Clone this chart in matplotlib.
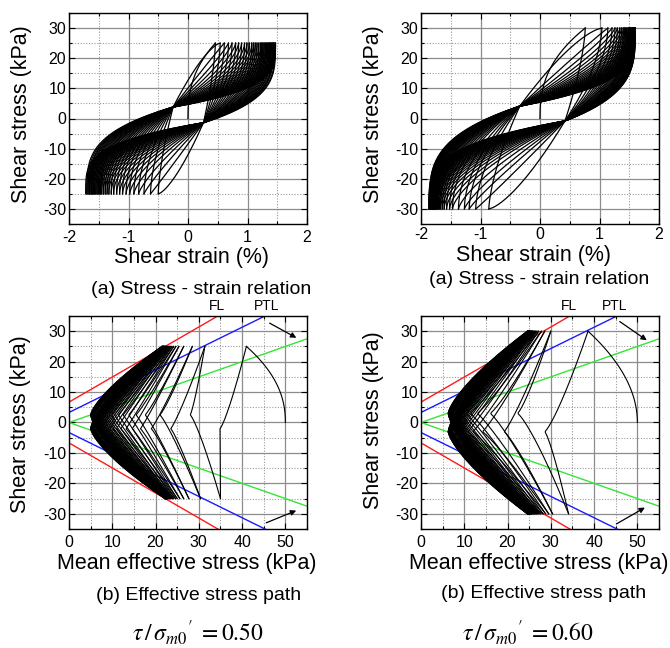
import numpy as np
import matplotlib.pyplot as plt
from matplotlib.ticker import MultipleLocator

plt.rcParams['font.family'] = ['Liberation Sans', 'DejaVu Sans']
plt.rcParams['mathtext.fontset'] = 'stix'
plt.rcParams['axes.unicode_minus'] = False

# ---- tau / sigma_m0' = 0.50 (left column) ----
amp_a = 25
peak_strain_a = [0.46, 0.54, 0.61, 0.68, 0.74, 0.80, 0.85, 0.90, 0.95, 0.99, 1.03, 1.07, 1.10, 1.13, 1.16, 1.19,
                 1.22, 1.24, 1.26, 1.28, 1.30, 1.32, 1.34, 1.36, 1.37, 1.39, 1.40, 1.42, 1.43, 1.44, 1.46, 1.47]
trough_strain_a = [-0.50, -0.63, -0.74, -0.83, -0.91, -0.98, -1.04, -1.10, -1.15, -1.20, -1.25, -1.29, -1.33, -1.36,
                   -1.39, -1.42, -1.45, -1.47, -1.49, -1.51, -1.53, -1.55, -1.57, -1.59, -1.60, -1.62, -1.63, -1.65,
                   -1.66, -1.68, -1.70, -1.72]
peak_p_a = [41.0, 31.4, 28.5, 26.5, 25.4, 24.7, 24.2, 23.8, 23.5, 23.2, 23.0, 22.8, 22.6, 22.5, 22.4, 22.3,
            22.2, 22.1, 22.0, 22.0, 21.9, 21.9, 21.8, 21.8, 21.7, 21.7, 21.6, 21.6, 21.6, 21.5, 21.5, 21.5]
trough_p_a = [35.0, 30.4, 27.7, 26.5, 25.6, 25.0, 24.6, 24.2, 23.9, 23.7, 23.5, 23.3, 23.2, 23.0, 22.9, 22.8,
              22.8, 22.7, 22.6, 22.6, 22.5, 22.5, 22.4, 22.4, 22.4, 22.3, 22.3, 22.3, 22.2, 22.2, 22.2, 22.2]
pmin_down_a = [34.9, 23.5, 19.0, 16.5, 14.6, 13.2, 12.0, 11.0, 10.2, 9.5, 9.0, 8.5, 8.1, 7.7, 7.4, 7.1,
               6.8, 6.6, 6.4, 6.2, 6.0, 5.9, 5.8, 5.7, 5.6, 5.5, 5.4, 5.3, 5.2, 5.1, 5.0, 5.0]
pmin_up_a = [28.0, 21.0, 17.6, 15.5, 13.8, 12.5, 11.4, 10.5, 9.8, 9.2, 8.7, 8.3, 7.9, 7.5, 7.2, 6.9,
             6.7, 6.5, 6.3, 6.1, 5.9, 5.8, 5.7, 5.6, 5.5, 5.4, 5.3, 5.2, 5.1, 5.0, 5.0]
pivot_down_a = (0.26, -1.4)
pivot_up_a = (-0.25, 3.8)

# ---- tau / sigma_m0' = 0.60 (right column) ----
amp_b = 30
peak_strain_b = [0.76, 1.04, 1.14, 1.21, 1.26, 1.30, 1.34, 1.37, 1.40, 1.42, 1.44, 1.46, 1.48, 1.49, 1.50, 1.51, 1.52,
                 1.53, 1.54, 1.55, 1.55, 1.56, 1.56, 1.57, 1.57, 1.58, 1.58, 1.58, 1.59, 1.59, 1.59, 1.60, 1.60, 1.60]
trough_strain_b = [-0.86, -1.08, -1.19, -1.27, -1.37, -1.47, -1.52, -1.57, -1.61, -1.64, -1.67, -1.69, -1.71, -1.73,
                   -1.74, -1.75, -1.76, -1.77, -1.78, -1.79, -1.80, -1.80, -1.81, -1.82, -1.82, -1.83, -1.83, -1.84,
                   -1.84, -1.85, -1.85, -1.86, -1.86, -1.87]
peak_p_b = [38.6, 30.0, 28.6, 27.8, 27.2, 26.8, 26.5, 26.2, 26.0, 25.8, 25.7, 25.6, 25.5, 25.4, 25.3, 25.2, 25.2,
            25.1, 25.1, 25.0, 25.0, 24.9, 24.9, 24.9, 24.8, 24.8, 24.8, 24.7, 24.7, 24.7, 24.7, 24.6, 24.6, 24.6]
trough_p_b = [34.1, 30.4, 29.5, 28.8, 28.2, 27.7, 27.3, 27.0, 26.7, 26.4, 26.2, 26.0, 25.8, 25.6, 25.5, 25.4, 25.3,
              25.2, 25.1, 25.0, 25.0, 24.9, 24.9, 24.8, 24.8, 24.8, 24.7, 24.7, 24.7, 24.7, 24.6, 24.6, 24.6, 24.6]
pmin_down_b = [28.6, 19.2, 14.2, 12.0, 10.8, 10.0, 9.4, 8.9, 8.5, 8.2, 7.9, 7.7, 7.5, 7.3, 7.2, 7.1, 7.0,
               6.9, 6.8, 6.8, 6.7, 6.7, 6.6, 6.6, 6.5, 6.5, 6.5, 6.4, 6.4, 6.4, 6.3, 6.3, 6.3, 6.3]
pmin_up_b = [22.3, 16.0, 13.0, 11.4, 10.4, 9.7, 9.1, 8.7, 8.3, 8.0, 7.8, 7.6, 7.4, 7.3, 7.2, 7.1, 7.0,
             6.9, 6.8, 6.8, 6.7, 6.7, 6.6, 6.6, 6.5, 6.5, 6.5, 6.4, 6.4, 6.4, 6.3, 6.3, 6.3]
pivot_down_b = (0.42, -0.8)
pivot_up_b = (-0.34, 4.1)

p_initial = 50.0
# reference lines (intercept, slope) in the p'-tau plane
fl_line = (6.7, 0.823)
ptl_line = (3.3, 0.70)
green_line = (0.0, 0.50)


def ramp(s, n):
    return 1 - (1 - s) ** n


def strain_branch(g0, g1, t0, t1, pivot, dev):
    # dev: 0 for the first cycle, 1 for the last (how far cyclic mobility has developed)
    gp, tp = pivot
    n0 = 1.5 + 2.0 * dev
    n1 = 0.7 + 3.0 * dev
    tau = np.linspace(t0, t1, 160)
    s0 = np.clip((tau - tp) / (t0 - tp), 0, 1)
    s1 = np.clip((tau - tp) / (t1 - tp), 0, 1)
    g = np.where(s0 > 0, gp + (g0 - gp) * ramp(s0, n0), gp + (g1 - gp) * ramp(s1, n1))
    return g, tau


def path_branch(p0, p1, pmin, t0, t1, t_apex, dev):
    m = 0.8 + 0.6 * dev
    tau = np.linspace(t0, t1, 160)
    s0 = np.clip((tau - t_apex) / (t0 - t_apex), 0, 1)
    s1 = np.clip((tau - t_apex) / (t1 - t_apex), 0, 1)
    p = np.where(s0 > 0, pmin + (p0 - pmin) * s0 ** m, pmin + (p1 - pmin) * s1 ** m)
    return p, tau


def build(amp, pk_g, tr_g, pk_p, tr_p, pmin_dn, pmin_up, piv_dn, piv_up, apex_dn, apex_up, k0):
    strain_lines, path_lines = [], []
    n = len(pk_g)
    tau = np.linspace(0, amp, 60)
    strain_lines.append((pk_g[0] * (tau / amp) ** 2.5, tau))
    path_lines.append((p_initial - (p_initial - pk_p[0]) * (tau / amp) ** k0, tau))
    for i in range(n):
        dev = (i / (n - 1)) ** 0.7
        strain_lines.append(strain_branch(pk_g[i], tr_g[i], amp, -amp, piv_dn, dev))
        path_lines.append(path_branch(pk_p[i], tr_p[i], pmin_dn[i], amp, -amp, apex_dn, dev))
        if i + 1 < n:
            strain_lines.append(strain_branch(tr_g[i], pk_g[i + 1], -amp, amp, piv_up, dev))
            path_lines.append(path_branch(tr_p[i], pk_p[i + 1], pmin_up[i], -amp, amp, apex_up, dev))
    return strain_lines, path_lines


def style_axes(ax, xlim, xmaj, xmin, xpad=4):
    ax.set_xlim(*xlim)
    ax.set_ylim(-35, 35)
    ax.xaxis.set_major_locator(MultipleLocator(xmaj))
    ax.xaxis.set_minor_locator(MultipleLocator(xmin))
    ax.yaxis.set_major_locator(MultipleLocator(10))
    ax.yaxis.set_minor_locator(MultipleLocator(5))
    ax.grid(which='major', color='#8c8c8c', lw=0.9, ls='-')
    ax.grid(which='minor', color='#9a9a9a', lw=0.8, ls=(0, (1, 1.5)))
    ax.set_axisbelow(True)
    ax.tick_params(which='both', direction='in', top=True, right=True, labelsize=11.5, width=0.8)
    ax.tick_params(which='major', length=4)
    ax.tick_params(which='minor', length=2)
    ax.tick_params(axis='y', pad=2)
    ax.tick_params(axis='x', pad=xpad)
    for sp in ax.spines.values():
        sp.set_linewidth(1.0)


fig = plt.figure(figsize=(6.7, 6.48), dpi=100)
W, H = 670, 648


def px_axes(x0, y0, x1, y1):
    return fig.add_axes([x0 / W, 1 - y1 / H, (x1 - x0) / W, (y1 - y0) / H])


def px_text(x, y, s, size, **kw):
    fig.text(x / W, 1 - y / H, s, fontsize=size, ha='center', va='center', **kw)


panels = [
    dict(data=build(amp_a, peak_strain_a, trough_strain_a, peak_p_a, trough_p_a, pmin_down_a, pmin_up_a,
                    pivot_down_a, pivot_up_a, -2.0, 2.5, 2.2),
         x0=69, xpad=4, label_ss=(192, 258), cap_ss=(201, 290), ylab_top=(22, 114), ylab_bot=(21, 424),
         xlab_b=(187, 563), cap_b=(199, 595), formula=(198, 633), ratio='0.50',
         fl_x=34.1, ptl_x=45.7, arrows=[((45.8, 33.1), (53.1, 27.4)), ((45.0, -33.3), (53.1, -28.6))]),
    dict(data=build(amp_b, peak_strain_b, trough_strain_b, peak_p_b, trough_p_b, pmin_down_b, pmin_up_b,
                    pivot_down_b, pivot_up_b, -3.0, 3.0, 2.0),
         x0=421, xpad=2.5, label_ss=(533, 255), cap_ss=(539, 279), ylab_top=(374, 114), ylab_bot=(373, 420),
         xlab_b=(539, 563), cap_b=(544, 593), formula=(528, 633), ratio='0.60',
         fl_x=34.2, ptl_x=44.8, arrows=[((45.4, 33.7), (52.7, 26.5)), ((44.6, -33.8), (52.3, -27.5))]),
]

for pn in panels:
    strain_lines, path_lines = pn['data']
    x0 = pn['x0']

    # stress - strain relation
    ax = px_axes(x0, 13, x0 + 238, 224)
    style_axes(ax, (-2, 2), 1, 0.5, pn['xpad'])
    for g, t in strain_lines:
        ax.plot(g, t, color='black', lw=0.9)

    # effective stress path
    bx = px_axes(x0, 316, x0 + 238, 529)
    style_axes(bx, (0, 55), 10, 5)
    pp = np.array([0, 55])
    for (c, m), col in [(fl_line, '#ff1a1a'), (ptl_line, '#1a1aff'), (green_line, '#33e633')]:
        bx.plot(pp, c + m * pp, color=col, lw=1.0)
        bx.plot(pp, -c - m * pp, color=col, lw=1.0)
    for p, t in path_lines:
        bx.plot(p, t, color='black', lw=0.8)
    bx.text(pn['fl_x'], 38.4, 'FL', fontsize=10, ha='center', va='center', clip_on=False)
    bx.text(pn['ptl_x'], 38.4, 'PTL', fontsize=10, ha='center', va='center', clip_on=False)
    for (xa, ya), (xb, yb) in pn['arrows']:
        bx.annotate('', xy=(xb, yb), xytext=(xa, ya),
                    arrowprops=dict(arrowstyle='-|>', color='black', lw=0.9, mutation_scale=8))

    px_text(*pn['ylab_top'], 'Shear stress (kPa)', 15.5, rotation=90)
    px_text(*pn['ylab_bot'], 'Shear stress (kPa)', 15.5, rotation=90)
    px_text(*pn['label_ss'], 'Shear strain (%)', 15.5)
    px_text(*pn['cap_ss'], '(a) Stress - strain relation', 14)
    px_text(*pn['xlab_b'], 'Mean effective stress (kPa)', 15.5)
    px_text(*pn['cap_b'], '(b) Effective stress path', 14)
    px_text(*pn['formula'], r"$\tau\,/\,\sigma_{m0}{}'\; = \mathrm{" + pn['ratio'] + "}$", 17)

fig.savefig('out.png', dpi=100)
